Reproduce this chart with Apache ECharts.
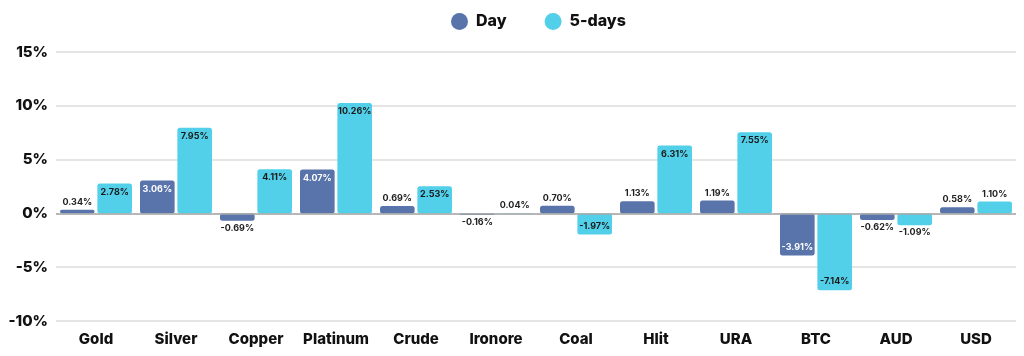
<!DOCTYPE html>
<html><head><meta charset="utf-8">
<script src="https://cdn.jsdelivr.net/npm/echarts@6/dist/echarts.min.js"></script>
<style>html,body{margin:0;padding:0;background:#fff}#c{width:1024px;height:356px}</style>
</head><body><div id="c"></div>
<script>
const categories = ['Gold','Silver','Copper','Platinum','Crude','Ironore','Coal','Hlit','URA','BTC','AUD','USD'];
const dayValues = [0.34, 3.06, -0.69, 4.07, 0.69, -0.16, 0.70, 1.13, 1.19, -3.91, -0.62, 0.58];
const fiveDayValues = [2.78, 7.95, 4.11, 10.26, 2.53, 0.04, -1.97, 6.31, 7.55, -7.14, -1.09, 1.10];
const yTicks = [-10, -5, 0, 5, 10, 15];

const FONT = 'Inter, "Open Sans", sans-serif';
function items(vals, insideColor) {
  return vals.map(v => {
    const inside = Math.abs(v) >= 1.5;
    return {
      value: v,
      label: {
        show: true,
        position: inside ? (v >= 0 ? 'insideTop' : 'insideBottom') : (v >= 0 ? 'top' : 'bottom'),
        color: inside ? insideColor : '#222',
        distance: inside ? 4 : 3,
        formatter: v.toFixed(2) + '%',
        fontSize: 9,
        fontWeight: 700,
        fontFamily: FONT
      }
    };
  });
}
const chart = echarts.init(document.getElementById('c'), null, {renderer: 'canvas'});
chart.setOption({
  animation: false,
  legend: {
    top: 8, left: 446, itemGap: 38,
    icon: 'circle', itemWidth: 17, itemHeight: 17,
    textStyle: {fontSize: 16, fontWeight: 800, color: '#111', fontFamily: FONT, padding: [0,0,0,3]},
    data: ['Day', '5-days']
  },
  grid: {left: 56, right: 8, top: 52, bottom: 35},
  xAxis: {
    type: 'category', data: categories,
    axisLine: {show: false}, axisTick: {show: false},
    axisLabel: {interval: 0, fontSize: 15, fontWeight: 800, color: '#111', fontFamily: FONT, margin: 11}
  },
  yAxis: {
    type: 'value', min: -10, max: 15, interval: 5,
    axisLabel: {fontSize: 15, fontWeight: 800, color: '#111', fontFamily: FONT, margin: 8,
      formatter: v => yTicks.includes(v) ? v + '%' : ''},
    splitLine: {lineStyle: {color: '#dcdcdc', width: 1.5}},
    axisLine: {show: false}, axisTick: {show: false}
  },
  series: [
    {
      name: 'Day', type: 'bar', data: items(dayValues, '#fff'),
      barGap: '8%', barCategoryGap: '10%',
      itemStyle: {color: '#5874ab', borderRadius: 2.5},
      markLine: {silent: true, symbol: 'none', label: {show: false},
        lineStyle: {color: '#a8a8a8', width: 1.5, type: 'solid'}, data: [{yAxis: 0}]}
    },
    {
      name: '5-days', type: 'bar', data: items(fiveDayValues, '#1a1a1a'),
      barGap: '8%', barCategoryGap: '10%',
      itemStyle: {color: '#52cfe9', borderRadius: 2.5}
    }
  ]
});
</script></body></html>
